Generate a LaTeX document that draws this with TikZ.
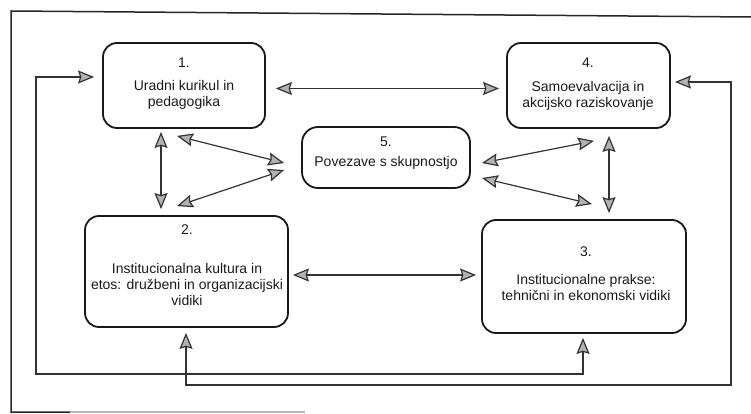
\documentclass[tikz,border=0pt]{standalone}
\usepackage{fontspec}
\setmainfont{Liberation Sans}
\usetikzlibrary{arrows.meta}
\begin{document}
\begin{tikzpicture}[x=1pt,y=-1pt,
  box/.style={draw=black!90, line width=1.8pt, rounded corners=14pt, inner sep=0pt},
  lbl/.style={align=center, font=\fontsize{14}{16}\selectfont, inner sep=0pt, text=black!90},
  link/.style={draw=black!80, line width=1.2pt,
    arrows={Stealth[length=16pt,width=13pt,inset=2pt,fill=gray!60]-Stealth[length=16pt,width=13pt,inset=2pt,fill=gray!60]}},
  frame/.style={draw=black!85, line width=1.5pt}
]
\useasboundingbox (0,0) rectangle (751,414);

% outer frame
\draw[frame] (751,17) -- (11,11) -- (11,412) -- (70,412);
\draw[gray!55, line width=1.2pt] (70,412) -- (305,412);

% boxes
\node[box, minimum width=162pt, minimum height=85pt] (b1) at (184,85.5) {};
\node[box, minimum width=163pt, minimum height=85pt] (b4) at (588.5,85.5) {};
\node[box, minimum width=168pt, minimum height=61pt, rounded corners=16pt] (b5) at (386,157.5) {};
\node[box, minimum width=203pt, minimum height=111pt] (b2) at (186.5,271.5) {};
\node[box, minimum width=204pt, minimum height=113pt] (b3) at (584,276.5) {};

% texts
\node[lbl] (t1) at (184,83.5) {1.\\[7pt]Uradni kurikul in\\pedagogika};
\node[lbl] (t4) at (588,84) {4.\\[8pt]Samoevalvacija in\\akcijsko raziskovanje};
\node[lbl] (t5) at (386,153.5) {5.\\[4pt]Povezave s skupnostjo};
\node[lbl] (t2) at (187,265) {2.\\[23pt]Institucionalna kultura in\\etos: družbeni in organizacijski\\vidiki};
\node[lbl] (t3) at (586,273.5) {3.\\[12pt]Institucionalne prakse:\\tehnični in ekonomski vidiki};

% connectors
\draw[link] ([xshift=10pt,yshift=-3pt]b1.east) -- ([xshift=-7pt,yshift=-3pt]b4.west);
\draw[link] ([xshift=-23pt,yshift=-3pt]b1.south) -- ([xshift=-25.5pt,yshift=6pt]b2.north);
\draw[link] ([xshift=-7pt,yshift=-7pt]b1.south) -- ([xshift=-17pt,yshift=-5.5pt]b5.west);
\draw[link] ([xshift=-9.5pt,yshift=9pt]b2.north) -- ([xshift=-17pt,yshift=-12.5pt]b5.west);
\draw[link] ([xshift=11pt,yshift=-5.5pt]b5.east) -- ([xshift=5.5pt,yshift=-12pt]b4.south);
\draw[link] ([xshift=11pt,yshift=-20.5pt]b5.east) -- ([xshift=8pt,yshift=15pt]b3.north);
\draw[link] ([xshift=20.5pt,yshift=-7pt]b4.south) -- ([xshift=25pt,yshift=6pt]b3.north);
\draw[link] ([xshift=4pt,yshift=-3.5pt]b2.east) -- ([xshift=-5pt,yshift=1.5pt]b3.west);

% feedback loops
\coordinate (la) at (36,374);
\coordinate (lb) at (731,385);
\draw[link] ([xshift=-8pt,yshift=8.5pt]b1.west) -| (la) -| ([xshift=-1pt,yshift=-4pt]b3.south);
\draw[link] ([xshift=-0.5pt,yshift=-5pt]b2.south) |- (lb) |- ([xshift=4pt,yshift=3.5pt]b4.east);
\end{tikzpicture}
\end{document}
